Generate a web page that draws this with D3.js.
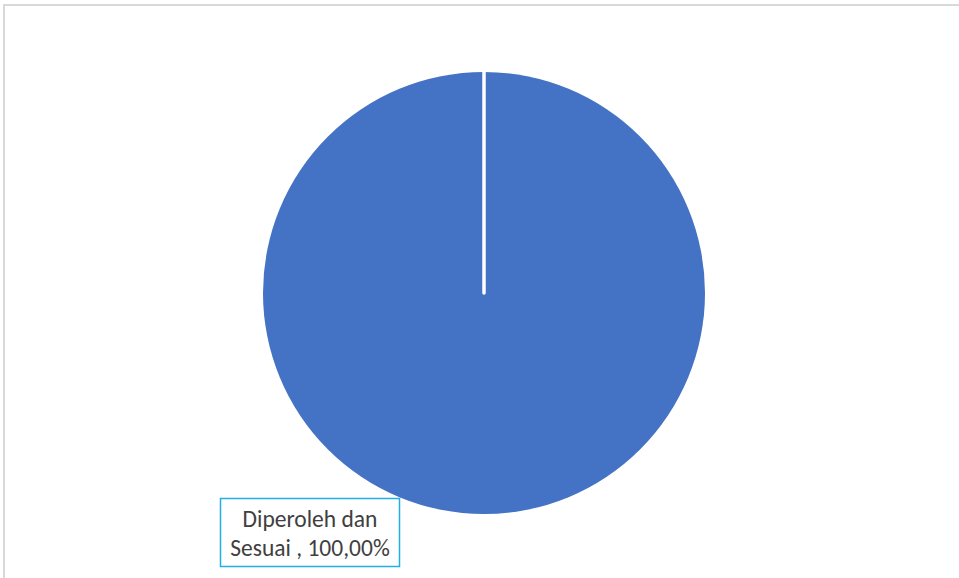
<!DOCTYPE html>
<html>
<head>
<meta charset="utf-8">
<script src="https://cdn.jsdelivr.net/npm/d3@7"></script>
<style>
  html, body { margin: 0; padding: 0; background: #fff; }
  svg { display: block; }
</style>
</head>
<body>
<svg id="chart" width="959" height="578"></svg>
<script>
// Survey result: share of respondents per category
const categories = ["Diperoleh dan Sesuai"];
const values = [100];
const labelLines = [["Diperoleh dan", "Sesuai , 100,00%"]];

const W = 959, H = 578;
const cx = 484, cy = 293, radius = 221;

const svg = d3.select("#chart");

// chart area frame
svg.append("rect")
  .attr("x", 4).attr("y", 5)
  .attr("width", W + 10).attr("height", H + 10)
  .attr("fill", "#fff")
  .attr("stroke", "#d9d9d9")
  .attr("stroke-width", 2);

const pie = d3.pie().sort(null).value(d => d);
const arcs = pie(values);
const arc = d3.arc().innerRadius(0).outerRadius(radius);

const g = svg.append("g").attr("transform", `translate(${cx},${cy})`);

g.selectAll("path.slice")
  .data(arcs)
  .enter().append("path")
  .attr("class", "slice")
  .attr("d", arc)
  .attr("fill", "#4472c4");

// slice borders along the radial edges
g.selectAll("line.edge")
  .data(arcs)
  .enter().append("line")
  .attr("class", "edge")
  .attr("x1", 0).attr("y1", 0)
  .attr("x2", d => Math.sin(d.startAngle) * (radius + 1))
  .attr("y2", d => -Math.cos(d.startAngle) * (radius + 1))
  .attr("stroke", "#fff")
  .attr("stroke-width", 3.5)
  .attr("stroke-linecap", "round");

// data label with callout box
const boxW = 179, boxH = 68;
const labelPos = [{ x: 220 - cx, y: 498 - cy }];
const lab = g.selectAll("g.label")
  .data(arcs)
  .enter().append("g")
  .attr("class", "label")
  .attr("transform", (d, i) => `translate(${labelPos[i].x},${labelPos[i].y})`);

lab.append("rect")
  .attr("x", 0.5).attr("y", 0.5)
  .attr("width", boxW).attr("height", boxH)
  .attr("fill", "#fff")
  .attr("stroke", "#22aee6")
  .attr("stroke-width", 1.5);

lab.each(function (d, i) {
  const t = d3.select(this).append("text")
    .attr("text-anchor", "middle")
    .attr("font-family", "Carlito, Calibri, Lato, 'Open Sans', sans-serif")
    .attr("font-size", 23.5)
    .attr("fill", "#404040");
  labelLines[i].forEach((s, k) => {
    t.append("tspan")
      .attr("x", boxW / 2 + 0.5)
      .attr("y", 29 + k * 29)
      .text(s);
  });
});
</script>
</body>
</html>
